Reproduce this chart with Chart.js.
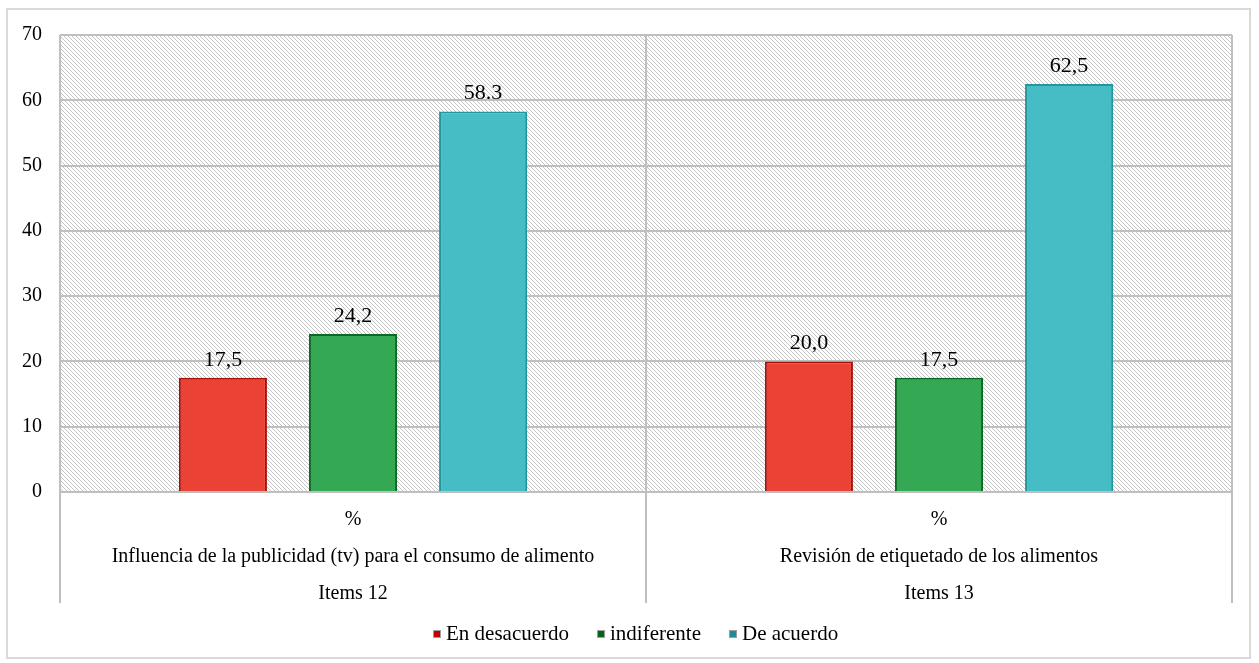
<!DOCTYPE html>
<html>
<head>
<meta charset="utf-8">
<script src="https://cdn.jsdelivr.net/npm/chart.js@4"></script>
<style>
  html, body { margin: 0; padding: 0; background: #fff; }
  #frame { position: absolute; left: 6px; top: 8px; width: 1241px; height: 647px; border: 2px solid #d9d9d9; }
  #wrap { position: absolute; left: 0; top: 0; width: 1259px; height: 663px; }
</style>
</head>
<body>
<div id="frame"></div>
<div id="wrap"><canvas id="myChart" width="1259" height="663"></canvas></div>
<script>
const categorias = [
    ['%', 'Influencia de la publicidad (tv) para el consumo de alimento', 'Items 12'],
    ['%', 'Revisión de etiquetado de los alimentos', 'Items 13']
];
const desacuerdo = [17.5, 20.0];
const indiferente = [24.2, 17.5];
const deAcuerdo = [58.3, 62.5];
// separador decimal usado en cada etiqueta
const sepDesacuerdo = [',', ','];
const sepIndiferente = [',', ','];
const sepDeAcuerdo = ['.', ','];
const yTicks = [0, 10, 20, 30, 40, 50, 60, 70];

const fuente = "'Liberation Serif', 'Times New Roman', serif";
const legendColors = ['#c00000', '#006414', '#1e8c96'];

// fondo rayado del área de trazado
function hatchPattern() {
    const c = document.createElement('canvas');
    c.width = 4;
    c.height = 4;
    const g = c.getContext('2d');
    g.fillStyle = '#ffffff';
    g.fillRect(0, 0, 4, 4);
    g.fillStyle = '#c4c4c4';
    for (let i = 0; i < 4; i++) {
        g.fillRect(i, i, 1, 1);
    }
    return g.createPattern(c, 'repeat');
}

const hatchBackground = {
    id: 'hatchBackground',
    beforeDraw(chart) {
        const a = chart.chartArea;
        const ctx = chart.ctx;
        ctx.save();
        ctx.fillStyle = hatchPattern();
        ctx.fillRect(a.left, a.top, a.right - a.left, a.bottom - a.top);
        ctx.restore();
    }
};

// líneas verticales entre categorías, bajan hasta las etiquetas
const separadores = {
    id: 'separadores',
    afterDraw(chart) {
        const a = chart.chartArea;
        const x = chart.scales.x;
        const ctx = chart.ctx;
        const n = categorias.length;
        const paso = (a.right - a.left) / n;
        ctx.save();
        ctx.strokeStyle = '#bfbfbf';
        ctx.lineWidth = 2;
        for (let i = 0; i <= n; i++) {
            const px = Math.round(x.left + paso * i);
            ctx.beginPath();
            ctx.moveTo(px, a.top);
            ctx.lineTo(px, x.bottom - 18);
            ctx.stroke();
        }
        ctx.restore();
    }
};

const etiquetas = {
    id: 'etiquetas',
    afterDatasetsDraw(chart) {
        const ctx = chart.ctx;
        const seps = [sepDesacuerdo, sepIndiferente, sepDeAcuerdo];
        ctx.save();
        ctx.font = '22px ' + fuente;
        ctx.fillStyle = '#000';
        ctx.textAlign = 'center';
        ctx.textBaseline = 'bottom';
        chart.data.datasets.forEach((ds, di) => {
            chart.getDatasetMeta(di).data.forEach((bar, i) => {
                const txt = ds.data[i].toFixed(1).replace('.', seps[di][i]);
                ctx.fillText(txt, bar.x, bar.y - 7);
            });
        });
        ctx.restore();
    }
};

// leyenda dibujada a mano, bajo el área de trazado
const leyenda = {
    id: 'leyenda',
    afterDraw(chart) {
        const ctx = chart.ctx;
        const a = chart.chartArea;
        const x = chart.scales.x;
        const box = 8, gapBox = 5, gapItem = 28;
        ctx.save();
        ctx.font = '21px ' + fuente;
        const items = chart.data.datasets.map((ds, i) => ({
            text: ds.label,
            color: legendColors[i],
            w: ctx.measureText(ds.label).width
        }));
        let total = 0;
        items.forEach((it, i) => {
            total += box + gapBox + it.w + (i < items.length - 1 ? gapItem : 0);
        });
        let cx = Math.round((a.left + a.right) / 2 - 10 - total / 2);
        const cy = x.bottom + 13;
        ctx.textBaseline = 'middle';
        ctx.textAlign = 'left';
        items.forEach(it => {
            ctx.fillStyle = it.color;
            ctx.fillRect(cx, cy - box / 2, box, box);
            ctx.strokeStyle = '#a0a0a0';
            ctx.lineWidth = 1;
            ctx.strokeRect(cx + 0.5, cy - box / 2 + 0.5, box - 1, box - 1);
            cx += box + gapBox;
            ctx.fillStyle = '#000';
            ctx.fillText(it.text, cx, cy);
            cx += it.w + gapItem;
        });
        ctx.restore();
    }
};

const ctx = document.getElementById('myChart').getContext('2d');

let myChart = new Chart(ctx, {
    type: 'bar',
    data: {
        labels: categorias,
        datasets: [{
            label: 'En desacuerdo',
            data: desacuerdo,
            backgroundColor: '#ea4335',
            borderColor: '#a8100a',
            borderWidth: 2
        }, {
            label: 'indiferente',
            data: indiferente,
            backgroundColor: '#34a853',
            borderColor: '#0a6a22',
            borderWidth: 2
        }, {
            label: 'De acuerdo',
            data: deAcuerdo,
            backgroundColor: '#46bcc5',
            borderColor: '#23959e',
            borderWidth: 2
        }]
    },
    options: {
        responsive: false,
        animation: false,
        categoryPercentage: 0.666,
        barPercentage: 0.677,
        layout: {
            padding: { left: 4, right: 27, top: 35, bottom: 42 }
        },
        scales: {
            x: {
                grid: { display: false, drawTicks: false },
                border: { display: true, color: '#bfbfbf', width: 2 },
                ticks: {
                    color: '#000',
                    font: { family: fuente, size: 20, lineHeight: 1.85 },
                    padding: 9,
                    maxRotation: 0,
                    autoSkip: false
                }
            },
            y: {
                min: 0,
                max: 70,
                afterBuildTicks(scale) {
                    scale.ticks = yTicks.map(v => ({ value: v }));
                },
                grid: { color: '#bfbfbf', lineWidth: 2, drawTicks: false },
                border: { display: false },
                ticks: {
                    color: '#000',
                    font: { family: fuente, size: 20 },
                    padding: 18
                }
            }
        },
        plugins: {
            legend: { display: false },
            tooltip: { enabled: false }
        }
    },
    plugins: [hatchBackground, separadores, etiquetas, leyenda]
});
</script>
</body>
</html>
